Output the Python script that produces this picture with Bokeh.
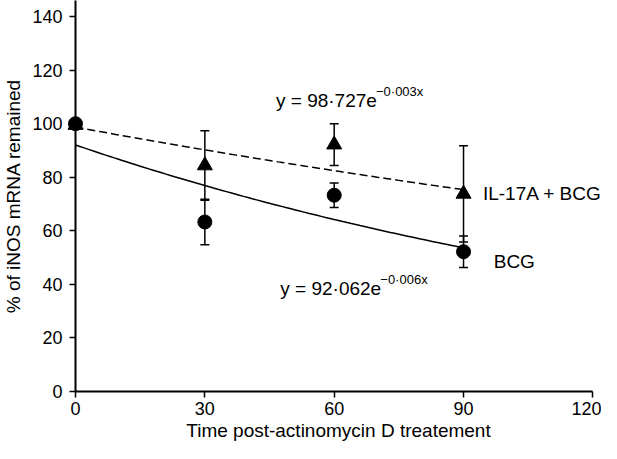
import numpy as np
from bokeh.plotting import figure
from bokeh.models import (ColumnDataSource, Range1d, FixedTicker, Whisker, TeeHead, Label)
from bokeh.embed import file_html
from bokeh.resources import INLINE

# ---- data ----
times = [0, 30, 60, 90]
bcg_mean = [100, 63.3, 73.3, 52.2]
bcg_err = [0, 8.5, 4.6, 5.9]
il17_mean = [99.5, 84.4, 92.2, 73.8]
il17_err = [0, 13.0, 7.8, 18.0]

# fitted trend lines as printed on the chart: y = a * exp(b * x)
bcg_fit = (92.062, -0.006)
il17_fit = (98.727, -0.003)
fit_x = list(range(0, 91))

x_ticks = [0, 30, 60, 90, 120]
y_ticks = [0, 20, 40, 60, 80, 100, 120, 140]

FONT = "Liberation Sans"

p = figure(width=601, height=443, output_backend="svg", toolbar_location=None,
           x_range=Range1d(0, 122), y_range=Range1d(0, 146),
           min_border_left=40, min_border_right=0, min_border_top=0, min_border_bottom=40)
p.outline_line_color = None
p.xgrid.visible = False
p.ygrid.visible = False
p.background_fill_color = "white"
p.border_fill_color = "white"

for ax in (p.xaxis[0], p.yaxis[0]):
    ax.axis_line_width = 2
    ax.axis_line_color = "black"
    ax.major_tick_line_width = 1.5
    ax.major_tick_line_color = "black"
    ax.major_tick_out = 6
    ax.major_tick_in = 0
    ax.minor_tick_line_color = None
    ax.major_label_text_font = FONT
    ax.major_label_text_font_size = "18px"
    ax.major_label_text_color = "black"
    ax.axis_label_text_font = FONT
    ax.axis_label_text_font_size = "19px"
    ax.axis_label_text_font_style = "normal"
    ax.axis_label_text_color = "black"

p.xaxis.ticker = FixedTicker(ticks=x_ticks)
p.yaxis.ticker = FixedTicker(ticks=y_ticks)
p.xaxis.bounds = (0, 120)
p.xaxis.axis_label = "Time post-actinomycin D treatement"
p.yaxis.axis_label = "% of iNOS mRNA remained"
p.xaxis.major_label_standoff = 4
p.yaxis.major_label_standoff = 7
p.xaxis.axis_label_standoff = 2
p.yaxis.axis_label_standoff = 5

# trend lines
fx = np.array(fit_x, dtype=float)
p.line(fx, il17_fit[0] * np.exp(il17_fit[1] * fx), line_color="black",
       line_width=1.5, line_dash="8 4")
p.line(fx, bcg_fit[0] * np.exp(bcg_fit[1] * fx), line_color="black", line_width=1.5)

# error bars
def add_err(mean, err):
    src = ColumnDataSource(dict(x=times,
                                lo=[m - e for m, e in zip(mean, err)],
                                hi=[m + e for m, e in zip(mean, err)]))
    w = Whisker(base="x", lower="lo", upper="hi", source=src,
                line_color="black", line_width=1.5,
                upper_head=TeeHead(size=9, line_color="black", line_width=1.5),
                lower_head=TeeHead(size=9, line_color="black", line_width=1.5))
    p.add_layout(w)

add_err(il17_mean, il17_err)
add_err(bcg_mean, bcg_err)

# markers
p.scatter(times, il17_mean, marker="triangle", size=15, fill_color="black",
          line_color="black", level="overlay")
p.scatter(times, bcg_mean, marker="circle", size=14, fill_color="black",
          line_color="black", level="overlay")

# equation and series labels
def eq_label(x, y, main, sup):
    p.add_layout(Label(x=x, y=y, text=main, text_font=FONT, text_font_size="19px",
                       text_baseline="alphabetic", text_align="left", text_color="black"))
    p.add_layout(Label(x=x, y=y, x_offset=100, y_offset=9, text=sup, text_font=FONT,
                       text_font_size="13px", text_baseline="alphabetic",
                       text_align="left", text_color="black"))

eq_label(46.5, 108.5, "y = 98\u00b7727e", "\u22120\u00b7003x")
eq_label(47.5, 38.5, "y = 92\u00b7062e", "\u22120\u00b7006x")

p.add_layout(Label(x=94.5, y=74.0, text="IL-17A + BCG", text_font=FONT,
                   text_font_size="19px", text_baseline="alphabetic", text_color="black"))
p.add_layout(Label(x=97.0, y=48.6, text="BCG", text_font=FONT,
                   text_font_size="19px", text_baseline="alphabetic", text_color="black"))

open("out.html", "w").write(file_html(p, INLINE))
